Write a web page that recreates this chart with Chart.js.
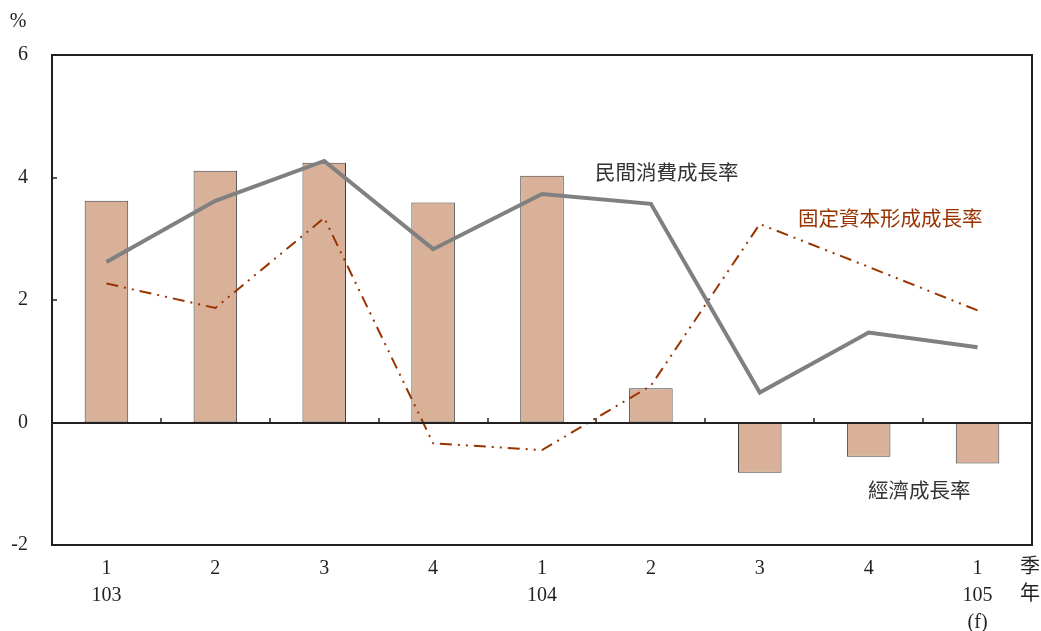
<!DOCTYPE html>
<html>
<head>
<meta charset="utf-8">
<script src="https://cdn.jsdelivr.net/npm/chart.js@4.4.0/dist/chart.umd.min.js"></script>
<style>
  body { margin: 0; background: #fff; }
  canvas { display: block; }
</style>
</head>
<body>
<canvas id="growthChart" width="1041" height="631"></canvas>
<script>
const quarters = [["1", "103"], "2", "3", "4", ["1", "104"], "2", "3", "4", ["1", "105", "(f)"]];
const gdpGrowth = [3.62, 4.11, 4.24, 3.59, 4.03, 0.56, -0.82, -0.56, -0.67];
const consumptionGrowth = [2.62, 3.62, 4.27, 2.83, 3.73, 3.57, 0.49, 1.47, 1.23];
const investmentGrowth = [2.27, 1.87, 3.34, -0.34, -0.45, 0.6, 3.24, 2.54, 1.83];
const yTicks = [-2, 0, 2, 4, 6];

const FONT = "'Liberation Serif', 'DejaVu Serif', 'Noto Sans CJK TC', serif";
const CJK = "'Noto Sans CJK TC', 'Liberation Serif', sans-serif";

// frame, zero line, inward ticks and the text notes
const framePlugin = {
  id: "frame",
  afterDatasetsDraw(chart) {
    const { ctx, chartArea: a, scales } = chart;
    const y = scales.y, x = scales.x;
    ctx.save();
    ctx.strokeStyle = "#231f20";
    ctx.lineWidth = 2;
    ctx.strokeRect(a.left, a.top, a.right - a.left, a.bottom - a.top);

    let y0 = Math.round(y.getPixelForValue(0));
    ctx.beginPath();
    ctx.moveTo(a.left, y0);
    ctx.lineTo(a.right, y0);
    ctx.stroke();

    ctx.lineWidth = 1.5;
    ctx.beginPath();
    yTicks.forEach(v => {
      let py = Math.round(y.getPixelForValue(v));
      ctx.moveTo(a.left, py);
      ctx.lineTo(a.left + 5, py);
    });
    for (let i = 0; i < quarters.length - 1; i++) {
      let px = Math.round((x.getPixelForValue(i) + x.getPixelForValue(i + 1)) / 2);
      ctx.moveTo(px, y0);
      ctx.lineTo(px, y0 - 5);
    }
    ctx.stroke();
    ctx.restore();
  },
  afterDraw(chart) {
    const { ctx, chartArea: a } = chart;
    ctx.save();
    ctx.textBaseline = "middle";
    ctx.font = "20px " + FONT;
    ctx.fillStyle = "#231f20";
    ctx.textAlign = "center";
    ctx.fillText("%", 18, 22);

    ctx.font = "20px " + CJK;
    ctx.fillText("季", a.right - 2, 565);
    ctx.fillText("年", a.right - 2, 592);

    ctx.font = "20.5px " + CJK;
    ctx.textAlign = "left";
    ctx.fillStyle = "#333333";
    ctx.fillText("民間消費成長率", 595, 172);
    ctx.fillText("經濟成長率", 868, 490);
    ctx.fillStyle = "#993300";
    ctx.fillText("固定資本形成成長率", 798, 218);
    ctx.restore();
  }
};

let ctx = document.getElementById("growthChart").getContext("2d");
let myChart = new Chart(ctx, {
  type: "bar",
  data: {
    labels: quarters,
    datasets: [
      {
        type: "line",
        label: "民間消費成長率",
        data: consumptionGrowth,
        borderColor: "#808080",
        borderWidth: 4,
        pointRadius: 0,
        tension: 0,
        order: 1
      },
      {
        type: "line",
        label: "固定資本形成成長率",
        data: investmentGrowth,
        borderColor: "#993300",
        borderWidth: 2,
        borderDash: [12, 6, 2, 6, 2, 6],
        pointRadius: 0,
        tension: 0,
        order: 2
      },
      {
        label: "經濟成長率",
        data: gdpGrowth,
        backgroundColor: "rgb(217, 176, 152)",
        borderColor: "#404040",
        borderWidth: 1,
        borderSkipped: false,
        barPercentage: 0.4,
        categoryPercentage: 1,
        order: 3
      }
    ]
  },
  options: {
    responsive: false,
    animation: false,
    layout: { padding: { top: 55, right: 9, left: 0, bottom: 0 } },
    plugins: {
      legend: { display: false },
      tooltip: { enabled: false }
    },
    scales: {
      x: {
        offset: true,
        grid: { display: false, drawTicks: false },
        border: { display: false },
        ticks: {
          color: "#231f20",
          padding: 10,
          maxRotation: 0,
          autoSkip: false,
          font: { family: FONT, size: 20, lineHeight: 1.35 }
        },
        afterFit: s => { s.height = 86; }
      },
      y: {
        min: -2,
        max: 6,
        grid: { display: false, drawTicks: false },
        border: { display: false },
        ticks: {
          stepSize: 2,
          color: "#231f20",
          padding: 24,
          font: { family: FONT, size: 20 }
        },
        afterFit: s => { s.width = 52; }
      }
    }
  },
  plugins: [framePlugin]
});
</script>
</body>
</html>
